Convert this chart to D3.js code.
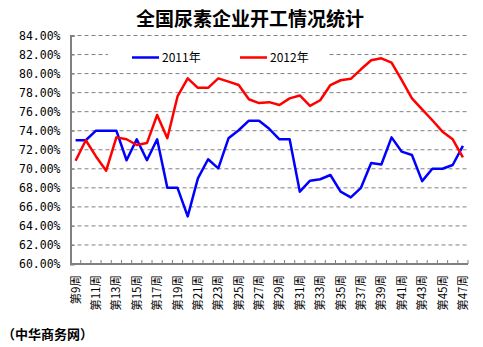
<!DOCTYPE html>
<html><head><meta charset="utf-8">
<script src="https://cdn.jsdelivr.net/npm/d3@7"></script>
<style>body{margin:0;background:#fff;} svg{display:block;}</style>
</head><body>
<svg id="c" width="483" height="347"></svg>
<script>
const weeks = ["第9周","第10周","第11周","第12周","第13周","第14周","第15周","第16周","第17周","第18周","第19周","第20周","第21周","第22周","第23周","第24周","第25周","第26周","第27周","第28周","第29周","第30周","第31周","第32周","第33周","第34周","第35周","第36周","第37周","第38周","第39周","第40周","第41周","第42周","第43周","第44周","第45周","第46周","第47周"];
const series2011 = [73.0,73.0,74.0,74.0,74.0,70.9,73.1,70.9,73.1,68.0,68.0,65.0,69.0,71.0,70.05,73.2,74.05,75.05,75.05,74.2,73.1,73.1,67.6,68.75,68.9,69.35,67.6,67.0,68.0,70.6,70.45,73.3,71.8,71.45,68.7,70.0,70.0,70.4,72.4];
const series2012 = [70.85,73.0,71.3,69.8,73.3,73.1,72.5,72.7,75.65,73.2,77.6,79.5,78.5,78.5,79.5,79.15,78.8,77.3,76.9,77.0,76.7,77.4,77.7,76.6,77.2,78.8,79.3,79.45,80.45,81.4,81.6,81.15,79.3,77.4,76.25,75.1,73.9,73.1,71.2];
const yTicks = [60,62,64,66,68,70,72,74,76,78,80,82,84];
const title = "全国尿素企业开工情况统计";
const legendNames = ["2011年","2012年"];
const source = "（中华商务网）";

const svg = d3.select("#c");
const pL = 70.5, pR = 468, pT = 35.5, pB = 264;
const x = d3.scaleBand().domain(weeks).range([pL, pR]);
const cx = w => x(w) + x.bandwidth()/2;
const y = d3.scaleLinear().domain([60,84]).range([pB, pT]);

// title
svg.append("text").attr("x", 250).attr("y", 26).attr("text-anchor","middle")
  .attr("font-family","'Noto Sans CJK SC'").attr("font-weight","bold").attr("font-size",19)
  .attr("fill","#000").text(title);

// gridlines
svg.append("g").selectAll("line").data(yTicks.filter(v=>v>60)).join("line")
  .attr("x1", pL).attr("x2", pR).attr("y1", d=>y(d)).attr("y2", d=>y(d))
  .attr("stroke","#808080").attr("stroke-width",1).attr("stroke-dasharray","4,3");

// y axis
const ya = svg.append("g").attr("transform",`translate(${pL},0)`)
  .call(d3.axisLeft(y).tickValues(yTicks).tickSize(-4).tickPadding(10).tickFormat(d=>d.toFixed(2)+"%"));
ya.select(".domain").attr("stroke","#808080").attr("stroke-width",2);
ya.selectAll(".tick line").attr("stroke","#808080").attr("stroke-width",1);
ya.selectAll(".tick text").attr("font-family","'DejaVu Sans Mono'").attr("font-size",11.5).attr("fill","#000");

// x axis
const xg = svg.append("g");
xg.append("line").attr("x1", pL).attr("x2", pR).attr("y1", pB).attr("y2", pB)
  .attr("stroke","#808080").attr("stroke-width",2);
xg.selectAll("line.t").data(weeks.slice(1).concat([null])).join("line").attr("class","t")
  .attr("x1", d=> d===null ? pR : x(d)).attr("x2", d=> d===null ? pR : x(d))
  .attr("y1", pB).attr("y2", pB-4).attr("stroke","#808080").attr("stroke-width",1);
xg.selectAll("text").data(weeks.filter((w,i)=>i%2===0)).join("text")
  .attr("transform", d=>`translate(${cx(d)},${pB+11}) rotate(-90)`)
  .attr("text-anchor","end").attr("dy","0.35em")
  .attr("font-family","'Noto Sans CJK SC'").attr("font-size",11.5).attr("fill","#000")
  .text(d=>d);

// lines
const line = d3.line().x((d,i)=>cx(weeks[i])).y(d=>y(d));
svg.append("path").datum(series2011).attr("d", line).attr("fill","none")
  .attr("stroke","#0000FF").attr("stroke-width",2.5).attr("stroke-linejoin","round");
svg.append("path").datum(series2012).attr("d", line).attr("fill","none")
  .attr("stroke","#FF0000").attr("stroke-width",2.5).attr("stroke-linejoin","round");

// legend
svg.append("rect").attr("x",108).attr("y",46).attr("width",220).attr("height",20).attr("fill","#fff");
const lg = [{n:legendNames[0],c:"#0000FF",x:132},{n:legendNames[1],c:"#FF0000",x:240}];
lg.forEach(l=>{
  svg.append("line").attr("x1",l.x).attr("x2",l.x+27).attr("y1",57.5).attr("y2",57.5)
    .attr("stroke",l.c).attr("stroke-width",2.5);
  svg.append("text").attr("x",l.x+30).attr("y",62).attr("font-family","'Noto Sans CJK SC'")
    .attr("font-size",12).attr("fill","#000").text(l.n);
});

// source
svg.append("text").attr("x",2).attr("y",339).attr("font-family","'Noto Sans CJK SC'")
  .attr("font-weight","bold").attr("font-size",13).attr("fill","#000").text(source);
</script>
</body></html>
